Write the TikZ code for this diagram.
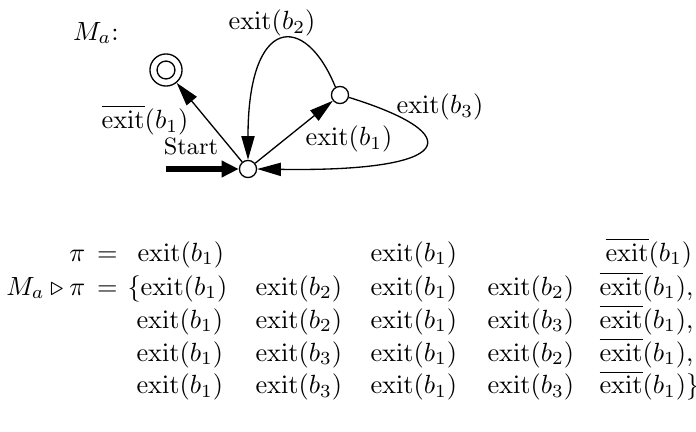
\documentclass[tikz,border=0pt]{standalone}
\usetikzlibrary{arrows.meta}
\newcommand{\exb}[1]{$\mathrm{exit}(b_{#1})$}
\newcommand{\nexb}[1]{$\overline{\mathrm{exit}}(b_{#1})$}
\begin{document}
\begin{tikzpicture}[x=0.38pt,y=-0.38pt,
  state/.style={circle,draw,line width=0.5pt,minimum size=6.5pt,inner sep=0pt},
  arr/.style={line width=0.5pt,-{Triangle[length=9pt,width=5pt]}},
  lbl/.style={inner sep=0pt},
  row/.style={inner sep=0pt,anchor=base west}]
\useasboundingbox (0,0) rectangle (696,432);
% automaton
\node[lbl] (title) at (96,33) {$M_a$:};
\node[state,minimum size=12.2pt] (F) at (166,70) {};
\node[state,minimum size=6.8pt] (Fi) at (166,70) {};
\node[state] (S) at (248,169) {};
\node[state] (N) at (340,95) {};
\coordinate (st) at (166,169);
\draw[line width=2.6pt,-{Triangle[length=6.5pt,width=6pt]}] (st) -- (S);
\node[lbl] (startl) at (191,146) {\small Start};
\draw[arr] (S) -- (F);
\draw[arr] (S) -- (N);
\draw[arr] (N.120) .. controls (305,12) and (248,15) .. (S.north);
\draw[arr] (N.-15) .. controls (470,135) and (455,172) .. (S.east);
\node[lbl] (lF) at (145,120) {\nexb{1}};
\node[lbl] (l2) at (272,23) {\exb{2}};
\node[lbl] (l3) at (440,107) {\exb{3}};
\node[lbl] (l1) at (349,139) {\exb{1}};
% equations
\node[inner sep=0pt,anchor=base east] (pi) at (118,261) {$\pi\,=$};
\node[inner sep=0pt,anchor=base east] (mpi) at (118,295) {$M_a \triangleright \pi\,=$};
\node[row] (a11) at (137,261) {\exb{1}};
\node[row] (a13) at (370,261) {\exb{1}};
\node[row] (a15) at (605,261) {\nexb{1}};
\node[row] (a21) at (127,295) {$\{$\exb{1}};
\node[row] (a22) at (255,295) {\exb{2}};
\node[row] (a23) at (370,295) {\exb{1}};
\node[row] (a24) at (487,295) {\exb{2}};
\node[row] (a25) at (599,295) {\nexb{1},};
\node[row] (a31) at (136,328) {\exb{1}};
\node[row] (a32) at (255,328) {\exb{2}};
\node[row] (a33) at (370,328) {\exb{1}};
\node[row] (a34) at (487,328) {\exb{3}};
\node[row] (a35) at (599,328) {\nexb{1},};
\node[row] (a41) at (136,361) {\exb{1}};
\node[row] (a42) at (255,361) {\exb{3}};
\node[row] (a43) at (370,361) {\exb{1}};
\node[row] (a44) at (487,361) {\exb{2}};
\node[row] (a45) at (599,361) {\nexb{1},};
\node[row] (a51) at (136,394) {\exb{1}};
\node[row] (a52) at (255,394) {\exb{3}};
\node[row] (a53) at (370,394) {\exb{1}};
\node[row] (a54) at (487,394) {\exb{3}};
\node[row] (a55) at (599,394) {\nexb{1}$\}$};
\end{tikzpicture}
\end{document}
